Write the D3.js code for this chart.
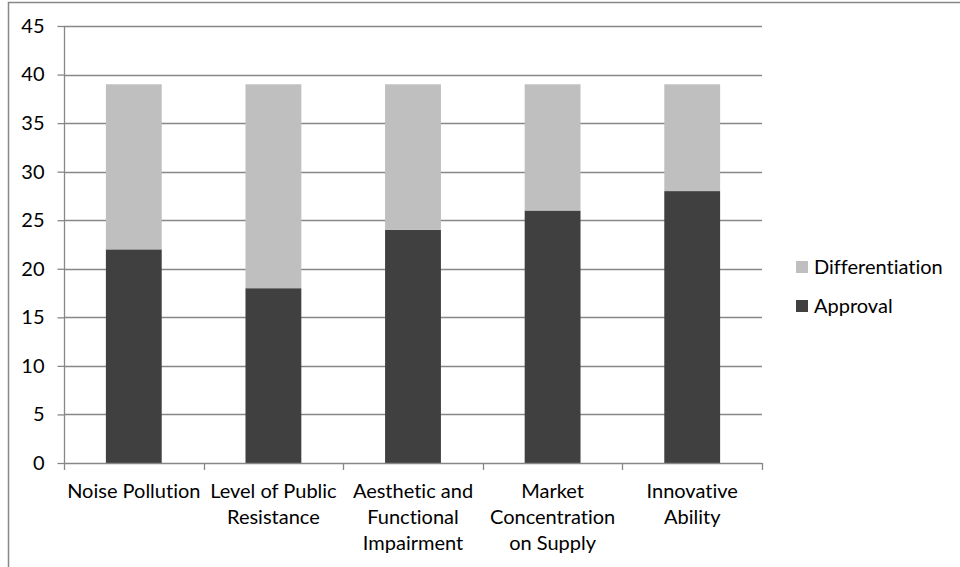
<!DOCTYPE html>
<html>
<head>
<meta charset="utf-8">
<script src="https://cdn.jsdelivr.net/npm/d3@7"></script>
<style>
  html, body { margin: 0; padding: 0; background: #ffffff; }
  svg { display: block; }
  text { font-family: Lato, "Open Sans", sans-serif; fill: #000; font-variant-ligatures: none; font-feature-settings: "liga" 0, "clig" 0; }
</style>
</head>
<body>
<svg id="chart" width="960" height="567"></svg>
<script>
const categories = ["Noise Pollution", "Level of Public Resistance", "Aesthetic and Functional Impairment", "Market Concentration on Supply", "Innovative Ability"];
const categoryLines = [
  ["Noise Pollution"],
  ["Level of Public", "Resistance"],
  ["Aesthetic and", "Functional", "Impairment"],
  ["Market", "Concentration", "on Supply"],
  ["Innovative", "Ability"]
];
const approval = [22, 18, 24, 26, 28];
const differentiation = [17, 21, 15, 13, 11];
const seriesNames = ["Approval", "Differentiation"];
const yTicks = [0, 5, 10, 15, 20, 25, 30, 35, 40, 45];

const colors = { Approval: "#404040", Differentiation: "#bfbfbf" };
const gridColor = "#878787";
const fontSize = 20;

const svg = d3.select("#chart");

// frame
svg.append("path")
  .attr("d", "M8.5,567 L8.5,2.5 L960,2.5")
  .attr("fill", "none").attr("stroke", gridColor).attr("stroke-width", 1.5);

const x = d3.scaleBand().domain(categories).range([64, 762]).paddingInner(0.6).paddingOuter(0.3);
const y = d3.scaleLinear().domain([0, 45]).range([463, 26]);

// gridlines
svg.append("g").selectAll("line").data(yTicks.filter(t => t > 0)).join("line")
  .attr("x1", 64).attr("x2", 762)
  .attr("y1", d => Math.round(y(d)) + 0.5).attr("y2", d => Math.round(y(d)) + 0.5)
  .attr("stroke", gridColor).attr("stroke-width", 1.3);

// stacked data
const table = categories.map((c, i) => ({ category: c, Approval: approval[i], Differentiation: differentiation[i] }));
const stacked = d3.stack().keys(seriesNames)(table);

svg.append("g").selectAll("g").data(stacked).join("g")
  .attr("fill", d => colors[d.key])
  .selectAll("rect").data(d => d).join("rect")
  .attr("x", d => x(d.data.category))
  .attr("width", x.bandwidth())
  .attr("y", d => y(d[1]))
  .attr("height", d => y(d[0]) - y(d[1]));

// y axis
const yAxis = svg.append("g").attr("transform", "translate(64.5,0)")
  .call(d3.axisLeft(y).tickValues(yTicks).tickSize(7).tickPadding(13).tickFormat(d3.format("d")));
yAxis.select(".domain").attr("stroke", gridColor).attr("stroke-width", 1.3).attr("d", "M0," + y(45) + "V" + y(0));
yAxis.selectAll(".tick line").attr("stroke", gridColor).attr("stroke-width", 1.3);
yAxis.selectAll(".tick text").attr("font-size", fontSize).attr("font-family", "Lato, sans-serif").attr("fill", "#000");

// x axis line and boundary ticks
const step = x.step();
const bounds = d3.range(categories.length + 1).map(i => 64 + i * step);
svg.append("line").attr("x1", 64).attr("x2", 762).attr("y1", y(0) + 0.5).attr("y2", y(0) + 0.5)
  .attr("stroke", gridColor).attr("stroke-width", 1.5);
svg.append("g").selectAll("line").data(bounds).join("line")
  .attr("x1", d => Math.round(d) + 0.5).attr("x2", d => Math.round(d) + 0.5)
  .attr("y1", y(0)).attr("y2", y(0) + 7)
  .attr("stroke", gridColor).attr("stroke-width", 1.3);

// x labels
const xl = svg.append("g").selectAll("text").data(categories).join("text")
  .attr("text-anchor", "middle").attr("font-size", fontSize)
  .attr("x", d => x(d) + x.bandwidth() / 2)
  .attr("y", 498);
xl.selectAll("tspan").data((d, i) => categoryLines[i]).join("tspan")
  .attr("x", function () { return this.parentNode.getAttribute("x"); })
  .attr("dy", (d, i) => i === 0 ? 0 : 26)
  .text(d => d);

// legend
const legendItems = ["Differentiation", "Approval"];
const lg = svg.append("g").selectAll("g").data(legendItems).join("g")
  .attr("transform", (d, i) => `translate(796,${261 + i * 39})`);
lg.append("rect").attr("width", 12).attr("height", 12).attr("fill", d => colors[d]);
lg.append("text").attr("x", 18).attr("y", 12.5).attr("font-size", fontSize).text(d => d);
</script>
</body>
</html>
